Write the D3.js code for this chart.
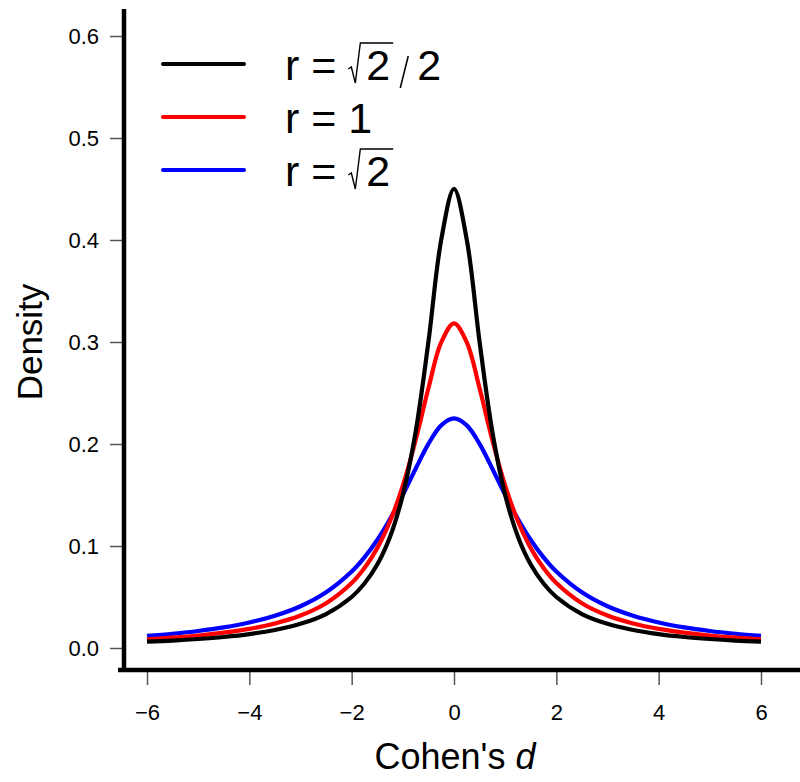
<!DOCTYPE html>
<html>
<head>
<meta charset="utf-8">
<script src="https://cdn.jsdelivr.net/npm/d3@7"></script>
<style>
  body { margin: 0; background: #fff; }
  text { font-family: "Liberation Sans", Arial, sans-serif; }
</style>
</head>
<body>
<svg width="800" height="782"></svg>
<script>
// values
var xs = [-6, -5.5, -5, -4.5, -4, -3.5, -3, -2.5, -2, -1.75, -1.5, -1.25, -1, -0.75, -0.5, -0.25,
  0, 0.25, 0.5, 0.75, 1, 1.25, 1.5, 1.75, 2, 2.5, 3, 3.5, 4, 4.5, 5, 5.5, 6];
var half1 = [0.0062, 0.0073, 0.0088, 0.0108, 0.0136, 0.0177, 0.0237, 0.0333, 0.0500, 0.0632, 0.0818, 0.1091, 0.1501, 0.2118, 0.3001, 0.4001];
var half2 = [0.0086, 0.0102, 0.0122, 0.0150, 0.0187, 0.0240, 0.0318, 0.0439, 0.0637, 0.0784, 0.0979, 0.1242, 0.1592, 0.2037, 0.2546, 0.2996];
var half3 = [0.0118, 0.0140, 0.0167, 0.0202, 0.0250, 0.0316, 0.0409, 0.0546, 0.0750, 0.0889, 0.1059, 0.1264, 0.1501, 0.1757, 0.2001, 0.2183];
var densBlack = half1.concat([0.4502], half1.slice().reverse());
var densRed = half2.concat([0.3183], half2.slice().reverse());
var densBlue = half3.concat([0.2251], half3.slice().reverse());
var xTicks = [-6, -4, -2, 0, 2, 4, 6];
var yTicks = [0, 0.1, 0.2, 0.3, 0.4, 0.5, 0.6];

var series = [
  { vals: densBlue, color: "#0000ff" },
  { vals: densRed, color: "#ff0000" },
  { vals: densBlack, color: "#000000" }
];

var svg = d3.select("svg");

var x = d3.scaleLinear().domain([-6, 6]).range([147, 761]);
var y = d3.scaleLinear().domain([0, 0.6]).range([648, 36]);

var line = d3.line()
  .x(function(d, i) { return x(xs[i]); })
  .y(function(d) { return y(d); })
  .curve(d3.curveCatmullRom);

svg.selectAll("path.curve")
  .data(series)
  .enter()
  .append("path")
  .attr("class", "curve")
  .attr("d", function(d) { return line(d.vals); })
  .attr("fill", "none")
  .attr("stroke", function(d) { return d.color; })
  .attr("stroke-width", 4.2);

// axes
var yAxis = svg.append("g").attr("transform", "translate(124,0)")
  .call(d3.axisLeft(y).tickValues(yTicks).tickFormat(d3.format(".1f")).tickSize(14).tickPadding(11));
var xAxis = svg.append("g").attr("transform", "translate(0,670)")
  .call(d3.axisBottom(x).tickValues(xTicks).tickFormat(function(d) { return d < 0 ? "\u2212" + (-d) : d; }).tickSize(15).tickPadding(19));

[yAxis, xAxis].forEach(function(g) {
  g.attr("font-size", null).attr("font-family", null);
  g.select(".domain").remove();
  g.selectAll(".tick line").attr("stroke", "#555").attr("stroke-width", 1.5);
  g.selectAll(".tick text").attr("fill", "#000").style("font-size", "22px");
});

svg.append("line").attr("x1", 124).attr("x2", 124).attr("y1", 9).attr("y2", 672)
  .attr("stroke", "#000").attr("stroke-width", 4.5);
svg.append("line").attr("x1", 118).attr("x2", 800).attr("y1", 670).attr("y2", 670)
  .attr("stroke", "#000").attr("stroke-width", 4.5);

// axis titles
svg.append("text")
  .attr("transform", "translate(42,342) rotate(-90)")
  .attr("text-anchor", "middle")
  .style("font-size", "35px")
  .text("Density");

var xt = svg.append("text")
  .attr("x", 455).attr("y", 769)
  .attr("text-anchor", "middle")
  .style("font-size", "36px");
xt.append("tspan").text("Cohen's ");
xt.append("tspan").style("font-style", "italic").text("d");

// legend
var legend = [
  { color: "#000000", parts: ["r = ", "sqrt", "/", "2"] },
  { color: "#ff0000", parts: ["r = 1"] },
  { color: "#0000ff", parts: ["r = ", "sqrt"] }
];
var legY = [64, 117, 170];

legend.forEach(function(item, i) {
  var ly = legY[i];
  svg.append("line").attr("x1", 163).attr("x2", 244).attr("y1", ly).attr("y2", ly)
    .attr("stroke", item.color).attr("stroke-width", 4).attr("stroke-linecap", "round");
  var cx = 285, base = ly + 16;
  item.parts.forEach(function(p) {
    if (p === "sqrt") {
      var two = svg.append("text").attr("x", cx + 18).attr("y", base)
        .style("font-size", "43px").text("2");
      var tw = two.node().getComputedTextLength();
      var end = cx + 18 + tw + 3;
      svg.append("path")
        .attr("d", "M" + cx + "," + (base - 11) + " L" + (cx + 3) + "," + (base - 13) +
          " L" + (cx + 7) + "," + (base + 3) + " L" + (cx + 12) + "," + (base - 37) +
          " L" + end + "," + (base - 37))
        .attr("fill", "none").attr("stroke", "#000").attr("stroke-width", 1.4);
      cx = end;
    } else if (p === "/") {
      svg.append("line").attr("x1", cx + 15).attr("x2", cx + 7)
        .attr("y1", base - 24).attr("y2", base + 8)
        .attr("stroke", "#000").attr("stroke-width", 1.5);
      cx += 24;
    } else {
      var t = svg.append("text").attr("x", cx).attr("y", base)
        .style("font-size", "43px").attr("xml:space", "preserve").text(p);
      cx += t.node().getComputedTextLength();
    }
  });
});
</script>
</body>
</html>
